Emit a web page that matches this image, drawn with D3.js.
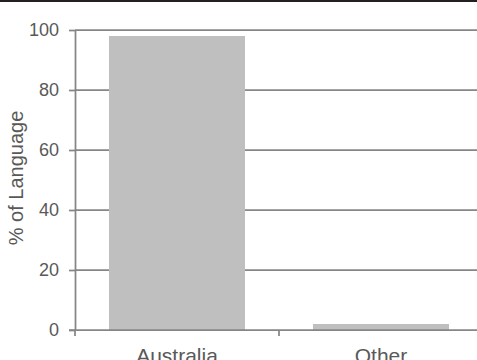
<!DOCTYPE html>
<html>
<head>
<meta charset="utf-8">
<script src="https://cdn.jsdelivr.net/npm/d3@7"></script>
<style>
  body { margin: 0; background: #fff; }
  svg { display: block; font-family: "Liberation Sans", Arial, sans-serif; }
</style>
</head>
<body>
<script>
const categories = ["Australia", "Other"];
const values = [98, 2];
const yTicks = [0, 20, 40, 60, 80, 100];

const width = 477;
const height = 360;
const marginTop = 30;
const marginBottom = 30;
const marginLeft = 75;
const plotRight = 483;

const svg = d3.select("body").append("svg")
    .attr("width", width)
    .attr("height", height)
    .attr("viewBox", [0, 0, width, height]);

// dark strip along the top edge
svg.append("rect")
    .attr("x", 0).attr("y", 0)
    .attr("width", width).attr("height", 2)
    .attr("fill", "#231f20");

const x = d3.scaleBand()
    .domain(categories)
    .range([marginLeft, plotRight])
    .paddingInner(0.3333)
    .paddingOuter(0.1667);

const band = d3.scaleBand()
    .domain(categories)
    .range([marginLeft, plotRight]);

const y = d3.scaleLinear()
    .domain([0, 100])
    .range([height - marginBottom, marginTop]);

// gridlines
svg.append("g")
    .selectAll("line")
    .data(yTicks.filter(d => d > 0))
    .join("line")
    .attr("x1", marginLeft).attr("x2", width)
    .attr("y1", d => y(d)).attr("y2", d => y(d))
    .attr("stroke", "#868686")
    .attr("stroke-width", 1.75);

// bars
svg.append("g")
    .selectAll("rect")
    .data(values)
    .join("rect")
    .attr("x", (d, i) => x(categories[i]))
    .attr("y", d => y(d))
    .attr("width", x.bandwidth())
    .attr("height", d => y(0) - y(d))
    .attr("fill", "#bfbfbf");

// y axis
svg.append("g")
    .attr("transform", `translate(${marginLeft},0)`)
    .call(d3.axisLeft(y).tickValues(yTicks).tickSize(6).tickPadding(10).tickSizeOuter(0))
    .call(g => g.select(".domain").attr("stroke", "#868686").attr("stroke-width", 1.75))
    .call(g => g.selectAll(".tick line").attr("stroke", "#868686").attr("stroke-width", 1.75))
    .call(g => g.selectAll("text").attr("fill", "#595959").style("font-size", "18px")
        .style("font-family", "Liberation Sans, Arial, sans-serif"));

// x axis
const xAxisG = svg.append("g")
    .attr("transform", `translate(0,${y(0)})`);
xAxisG.append("line")
    .attr("x1", marginLeft - 6).attr("x2", width)
    .attr("y1", 0).attr("y2", 0)
    .attr("stroke", "#868686").attr("stroke-width", 1.75);
xAxisG.selectAll(".sep")
    .data(categories)
    .join("line")
    .attr("class", "sep")
    .attr("x1", d => band(d)).attr("x2", d => band(d))
    .attr("y1", 0).attr("y2", 6)
    .attr("stroke", "#868686").attr("stroke-width", 1.75);
xAxisG.selectAll(".lbl")
    .data(categories)
    .join("text")
    .attr("class", "lbl")
    .attr("x", d => band(d) + band.bandwidth() / 2)
    .attr("y", 33)
    .attr("text-anchor", "middle")
    .attr("fill", "#595959")
    .style("font-size", "21px")
    .text(d => d);

// y axis title
svg.append("text")
    .attr("transform", `translate(23,178) rotate(-90)`)
    .attr("text-anchor", "middle")
    .attr("fill", "#595959")
    .style("font-size", "20px")
    .text("% of Language");
</script>
</body>
</html>
